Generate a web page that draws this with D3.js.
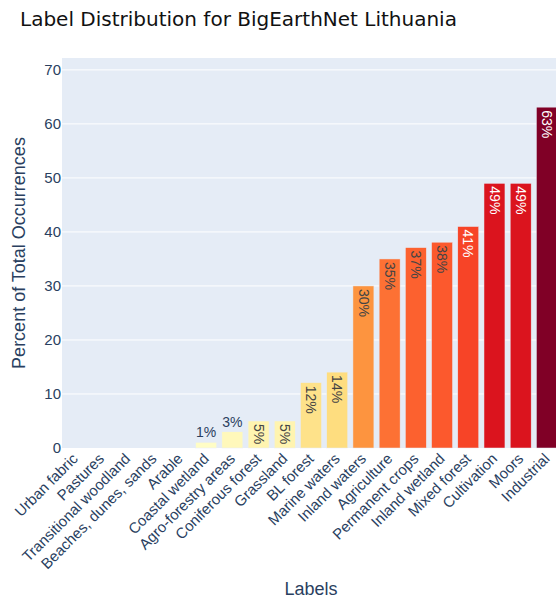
<!DOCTYPE html>
<html>
<head>
<meta charset="utf-8">
<script src="https://cdn.jsdelivr.net/npm/d3@7"></script>
<style>
  body { margin: 0; background: #fff; }
  svg { display: block; }
  .tick-label { font-family: "Liberation Sans", Arial, sans-serif; font-size: 15px; fill: #2a3f5f; }
  .axis-title { font-family: "Liberation Sans", Arial, sans-serif; font-size: 18px; fill: #2a3f5f; }
</style>
</head>
<body>
<div class="chart"></div>
<script>
// Label distribution (percent of total occurrences)
var labels = ["Urban fabric", "Pastures", "Transitional woodland", "Beaches, dunes, sands", "Arable",
  "Coastal wetland", "Agro-forestry areas", "Coniferous forest", "Grassland", "BL forest",
  "Marine waters", "Inland waters", "Agriculture", "Permanent crops", "Inland wetland",
  "Mixed forest", "Cultivation", "Moors", "Industrial"];
var percents = [0, 0, 0, 0, 0, 1.05, 3.0, 5.0, 5.0, 12.1, 14.05, 30, 35, 37.1, 38.1, 41, 49, 49, 63.1];
var yTicks = [0, 10, 20, 30, 40, 50, 60, 70];

var svgWidth = 556;
var svgHeight = 598;
var margin = {top: 58, right: -4, bottom: 150, left: 62};
var width = svgWidth - margin.left - margin.right;
var height = svgHeight - margin.top - margin.bottom;

var data = labels.map(function(d, i) { return {label: d, value: percents[i]}; });

var svg = d3.select(".chart")
  .append("svg")
  .attr("width", svgWidth)
  .attr("height", svgHeight);

// title
svg.append("text")
  .attr("x", 20)
  .attr("y", 26)
  .style("font-family", "'DejaVu Sans', sans-serif")
  .style("font-size", "20px")
  .style("fill", "#111")
  .text("Label Distribution for BigEarthNet Lithuania");

var chart = svg.append("g")
  .attr("transform", "translate(" + margin.left + "," + margin.top + ")");

chart.append("rect")
  .attr("width", width)
  .attr("height", height)
  .attr("fill", "#e5ecf6");

var xBandScale = d3.scaleBand()
  .domain(labels)
  .range([0, width])
  .paddingInner(0.2)
  .paddingOuter(0.1);

var yLinearScale = d3.scaleLinear()
  .domain([0, 72.2])
  .range([height, 0]);

// plotly YlOrRd colorscale
var cmax = d3.max(percents);
var colorScale = d3.scaleLinear()
  .domain([0, 0.125, 0.25, 0.375, 0.5, 0.625, 0.75, 0.875, 1].map(function(t) { return t * cmax; }))
  .range(["rgb(255,255,204)", "rgb(255,237,160)", "rgb(254,217,118)", "rgb(254,178,76)",
    "rgb(253,141,60)", "rgb(252,78,42)", "rgb(227,26,28)", "rgb(189,0,38)", "rgb(128,0,38)"]);

// gridlines
chart.selectAll(".grid")
  .data(yTicks.filter(function(t) { return t > 0; }))
  .enter()
  .append("line")
  .attr("x1", 0)
  .attr("x2", width)
  .attr("y1", function(d) { return yLinearScale(d); })
  .attr("y2", function(d) { return yLinearScale(d); })
  .attr("stroke", "#fff")
  .attr("stroke-width", 1);

// y tick labels
var leftAxis = d3.axisLeft(yLinearScale).tickValues(yTicks).tickSize(0).tickPadding(1);
var yAxis = chart.append("g").call(leftAxis);
yAxis.select(".domain").remove();
yAxis.selectAll("text").attr("class", "tick-label").attr("fill", null).attr("font-family", null).attr("font-size", null);

// x tick labels
var xAxis = chart.append("g")
  .attr("transform", "translate(0," + height + ")");
xAxis.selectAll("text")
  .data(labels)
  .enter()
  .append("text")
  .attr("class", "tick-label")
  .attr("text-anchor", "end")
  .attr("dy", "0.35em")
  .attr("transform", function(d) {
    return "translate(" + (xBandScale(d) + xBandScale.bandwidth() / 2) + ",8) rotate(-45)";
  })
  .text(function(d) { return d; });

// bars
chart.selectAll(".bar")
  .data(data)
  .enter()
  .append("rect")
  .attr("class", "bar")
  .attr("x", function(d) { return xBandScale(d.label); })
  .attr("width", xBandScale.bandwidth())
  .attr("y", function(d) { return yLinearScale(d.value); })
  .attr("height", function(d) { return height - yLinearScale(d.value); })
  .attr("fill", function(d) { return colorScale(d.value); })
  .attr("stroke", function(d) { return d.value > 0 ? "#e5ecf6" : "none"; })
  .attr("stroke-width", 0.5);

// bar value labels
function isLight(c) {
  var rgb = d3.rgb(c);
  return (rgb.r * 299 + rgb.g * 587 + rgb.b * 114) / 1000 > 128;
}
var labelled = data.filter(function(d) { return d.value > 0; });
chart.selectAll(".bar-label")
  .data(labelled)
  .enter()
  .append("text")
  .attr("class", "bar-label")
  .style("font-family", "'Liberation Sans', Arial, sans-serif")
  .style("font-size", "14px")
  .each(function(d) {
    var cx = xBandScale(d.label) + xBandScale.bandwidth() / 2;
    var top = yLinearScale(d.value);
    var txt = d3.select(this).text(Math.round(d.value) + "%");
    if (height - top < 24) {
      // outside, above the bar
      txt.attr("x", cx).attr("y", top - 5)
        .attr("text-anchor", "middle")
        .style("fill", "#2a3f5f");
    } else {
      txt.attr("text-anchor", "start")
        .attr("dy", "0.35em")
        .attr("transform", "translate(" + cx + "," + (top + 3) + ") rotate(90)")
        .style("fill", isLight(colorScale(d.value)) ? "#444" : "#fff");
    }
  });

// axis titles
svg.append("text")
  .attr("class", "axis-title")
  .attr("text-anchor", "middle")
  .attr("transform", "translate(25," + (margin.top + height / 2) + ") rotate(-90)")
  .text("Percent of Total Occurrences");

svg.append("text")
  .attr("class", "axis-title")
  .attr("text-anchor", "middle")
  .attr("x", margin.left + 249)
  .attr("y", 595)
  .text("Labels");
</script>
</body>
</html>
